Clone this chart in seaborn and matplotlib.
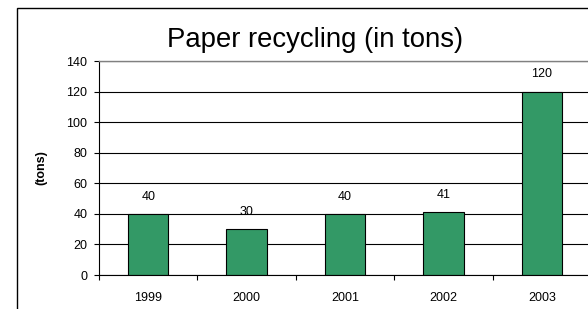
import pandas as pd
import matplotlib.pyplot as plt
import seaborn as sns
from matplotlib.patches import Rectangle

# Chart data
years = ['1999', '2000', '2001', '2002', '2003']
tons = [40, 30, 40, 41, 120]

df = pd.DataFrame({'Year': years, 'Tons': tons})

sns.set_style('white')
plt.rcParams['font.family'] = ['Liberation Sans', 'DejaVu Sans']
plt.rcParams['text.color'] = 'black'
plt.rcParams['xtick.color'] = 'black'
plt.rcParams['ytick.color'] = 'black'
plt.rcParams['axes.labelcolor'] = 'black'

fig = plt.figure(figsize=(5.88, 3.09), dpi=100)
ax = fig.add_axes([99 / 588, 34 / 309, 492 / 588, 214 / 309])

sns.barplot(x='Year', y='Tons', data=df, color='#339966', width=0.41,
            edgecolor='black', linewidth=0.8, saturation=1, ax=ax)

ax.set_ylim(0, 140)
ax.set_xlim(-0.5, len(years) - 0.5)
ax.set_yticks(range(0, 141, 20))
ax.yaxis.grid(True, color='black', linewidth=0.8)
ax.set_axisbelow(True)

# value labels above bars
for i, v in enumerate(tons):
    ax.annotate(str(v), (i, v), xytext=(0, 8), textcoords='offset points',
                ha='center', va='bottom', fontsize=9)

# category boundaries get the x ticks, labels stay centered
ax.set_xticks([i + 0.5 for i in range(len(years) - 1)] + [-0.5], minor=True)
ax.tick_params(axis='x', which='major', length=0, labelsize=9, pad=12)
ax.tick_params(axis='x', which='minor', length=3.5, width=0.8, color='black',
               direction='out', bottom=True)
ax.tick_params(axis='y', length=3.5, width=0.8, color='black', direction='out',
               left=True, labelsize=9, pad=5)

ax.set_xlabel('')
ax.set_ylabel('(tons)', fontsize=9, fontweight='bold')
ax.yaxis.set_label_coords(-0.104, 0.5)

for side in ['left', 'bottom']:
    ax.spines[side].set_color('black')
    ax.spines[side].set_linewidth(0.8)
ax.spines['top'].set_color('#808080')
ax.spines['top'].set_linewidth(1.0)
ax.spines['right'].set_color('#808080')

fig.text(315 / 588, 1 - 47 / 309, 'Paper recycling (in tons)', ha='center',
         va='baseline', fontsize=19.8)

# chart area border
fig.patches.append(Rectangle((17 / 588, -0.1), 1.2, 0.974 + 0.1,
                             transform=fig.transFigure, fill=False,
                             edgecolor='black', linewidth=1.0))

fig.savefig('out.png', dpi=100)
